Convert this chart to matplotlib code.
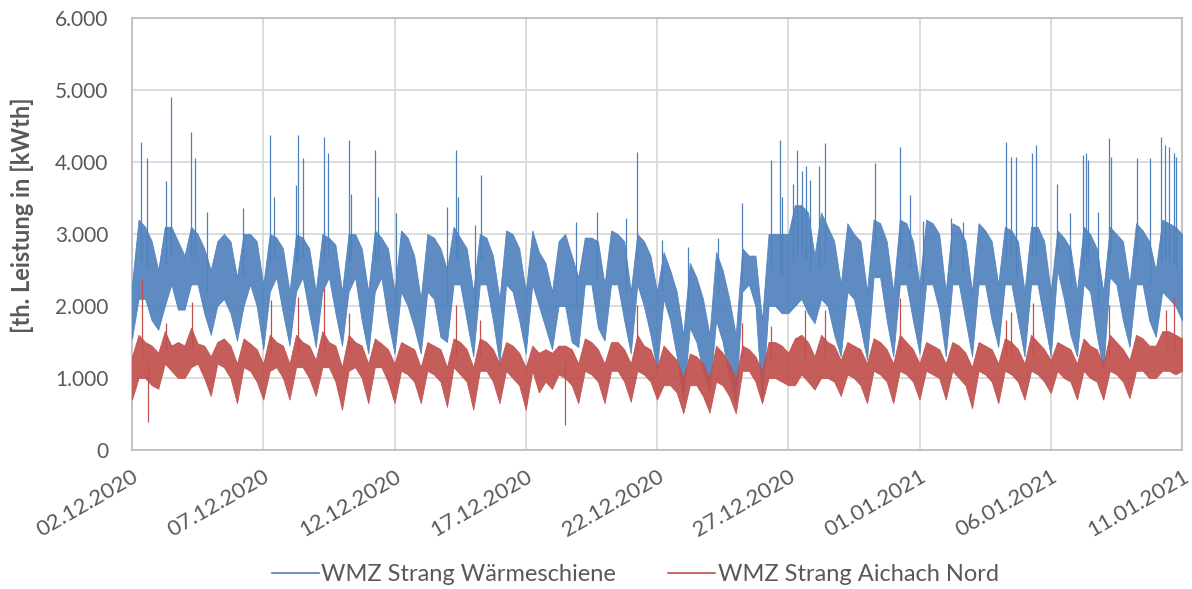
import numpy as np
import matplotlib.pyplot as plt

plt.rcParams['font.family'] = ['Lato', 'DejaVu Sans']

# time axis in days after 02.12.2020 00:00, samples every 6 h (00, 06, 12, 18 h)
tick_days = [0, 5, 10, 15, 20, 25, 30, 35, 40]
tick_labels = ["02.12.2020", "07.12.2020", "12.12.2020", "17.12.2020", "22.12.2020",
               "27.12.2020", "01.01.2021", "06.01.2021", "11.01.2021"]
y_ticks = [0, 1000, 2000, 3000, 4000, 5000, 6000]
y_labels = ["0", "1.000", "2.000", "3.000", "4.000", "5.000", "6.000"]
t_grid = np.arange(161) / 4

# WMZ Strang Wärmeschiene: band of the dense 15-min trace, lower / upper edge [kW]
blue_lo = [1550, 2100, 2100, 1800, 1670, 2000, 2300, 1950, 1950, 2300, 2300, 1900,
           1600, 2000, 2100, 1900, 1520, 2000, 2300, 2000, 1400, 2200, 2400, 1900,
           1450, 2200, 2400, 1900, 1430, 2200, 2400, 1900, 1450, 2200, 2400, 1800,
           1340, 2200, 2400, 1800, 1340, 2200, 2000, 1700, 1340, 2200, 2100, 1570,
           1500, 2300, 2300, 1800, 1300, 2300, 2300, 1800, 1200, 2300, 2200, 1800,
           1340, 2300, 2000, 1700, 1400, 2000, 2000, 1500, 1430, 2300, 2300, 1700,
           1520, 2300, 2300, 1800, 1340, 2300, 2000, 1600, 1110, 2100, 1800, 1300,
           690, 1700, 1500, 1100, 790, 1800, 1500, 1000, 650, 2200, 2300, 2000,
           650, 2000, 2000, 1900, 1900, 2000, 2100, 1900, 1760, 2100, 2000, 1600,
           1300, 2200, 2100, 1700, 1250, 2400, 2400, 1800, 1300, 2300, 2300, 1800,
           1340, 2300, 2300, 1940, 1300, 2300, 2300, 1800, 1300, 2300, 2300, 1800,
           1430, 2300, 2300, 1800, 1300, 2300, 2300, 1800, 1300, 2500, 2100, 1600,
           1300, 2300, 2200, 1600, 1110, 2400, 2300, 1800, 1430, 2300, 2300, 1800,
           1570, 2200, 2100, 2000, 1800]
blue_hi = [2300, 3200, 3100, 2900, 2500, 3100, 3100, 2900, 2700, 3100, 3000, 2800,
           2500, 2900, 3000, 2900, 2400, 3000, 3000, 2900, 2300, 3000, 2950, 2800,
           2200, 3000, 2950, 2800, 2200, 3000, 2950, 2850, 2200, 3000, 3000, 2800,
           2200, 3050, 2950, 2800, 2200, 3050, 2950, 2700, 2100, 3000, 2950, 2800,
           2500, 3100, 2950, 2800, 2200, 3000, 2950, 2700, 2100, 3050, 3000, 2800,
           2200, 3050, 2750, 2600, 2200, 2900, 3000, 2700, 2400, 2950, 2950, 2900,
           2300, 3050, 3000, 2900, 2200, 3000, 2900, 2700, 2200, 2750, 2500, 2200,
           1600, 2600, 2400, 2100, 1600, 2750, 2500, 2100, 1600, 2800, 2700, 2700,
           1800, 3000, 3000, 3000, 3000, 3400, 3400, 3300, 2700, 3300, 3100, 2900,
           2300, 3150, 3000, 2900, 2200, 3200, 3150, 2900, 2200, 3200, 3150, 2900,
           2300, 3200, 3150, 3000, 2200, 3150, 3100, 2900, 2200, 3150, 3050, 2900,
           2300, 3100, 3050, 2900, 2200, 3100, 3100, 2900, 2200, 3050, 2950, 2800,
           2200, 3100, 3000, 2800, 2200, 3100, 3000, 2900, 2300, 3150, 3050, 2900,
           2500, 3200, 3150, 3100, 3000]
# single peaks: time [days], value [kW]
blue_spike_t = [0.34, 0.57, 1.28, 1.50, 2.23, 2.40, 2.87, 4.22, 5.27, 5.42, 6.25, 6.31,
                6.50, 7.33, 7.46, 8.28, 8.35, 9.27, 9.36, 10.07, 12.00, 12.36, 12.42,
                13.06, 13.31, 16.90, 17.70, 18.81, 19.25, 20.18, 21.19, 22.33, 23.22,
                24.34, 24.70, 24.78, 25.18, 25.33, 25.52, 25.69, 25.81, 26.16, 26.39,
                28.30, 29.27, 29.63, 30.13, 31.21, 31.66, 33.31, 33.48, 33.69, 34.29,
                34.43, 35.25, 35.72, 36.21, 36.33, 36.43, 36.81, 37.22, 37.28, 38.30,
                38.77, 39.21, 39.34, 39.50, 39.70, 39.78]
blue_spike_v = [4280, 4050, 3730, 4900, 4420, 4050, 3300, 3360, 4370, 3520, 3680, 4370,
                4050, 4350, 4120, 4300, 3560, 4170, 3520, 3290, 3380, 4170, 3520,
                3120, 3820, 3170, 3310, 3220, 4140, 2920, 2820, 2940, 3430,
                4030, 4300, 3520, 3690, 4170, 3870, 3940, 3750, 3940, 4260,
                3980, 4210, 3540, 3180, 3220, 3170, 4280, 4070, 4070, 4120,
                4240, 3700, 3290, 4100, 4120, 4030, 3310, 4330, 4070, 4050,
                4050, 4350, 4240, 4210, 4120, 4070]

# WMZ Strang Aichach Nord
red_lo = [700, 1000, 1000, 900, 850, 1200, 1100, 1000, 1000, 1150, 1200, 1000,
          750, 1200, 1150, 1000, 650, 1150, 1100, 950, 700, 1100, 1150, 1000,
          700, 1150, 1150, 1000, 750, 1150, 1150, 950, 560, 1100, 1150, 1000,
          650, 1150, 1150, 950, 650, 1100, 1050, 950, 650, 1100, 1050, 950,
          600, 1150, 1050, 950, 560, 1100, 1100, 950, 650, 1100, 1000, 900,
          560, 1100, 800, 950, 850, 1050, 1000, 900, 650, 1100, 1050, 950,
          650, 1100, 1100, 950, 670, 1100, 1050, 950, 700, 900, 900, 800,
          510, 900, 900, 750, 520, 950, 900, 750, 510, 1100, 1100, 950,
          650, 1000, 1000, 950, 900, 900, 1050, 950, 840, 1000, 1000, 950,
          750, 1050, 1000, 900, 650, 1100, 1050, 950, 650, 1100, 1050, 950,
          700, 1100, 1050, 1000, 700, 1100, 1000, 900, 580, 1100, 1050, 950,
          650, 1100, 1050, 950, 700, 1100, 1050, 950, 790, 1100, 1000, 950,
          700, 1100, 1000, 950, 700, 1100, 1050, 950, 720, 1100, 1100, 1000,
          1000, 1100, 1100, 1050, 1100]
red_hi = [1300, 1600, 1500, 1450, 1350, 1650, 1450, 1500, 1450, 1700, 1480, 1450,
          1300, 1500, 1550, 1450, 1200, 1550, 1480, 1400, 1200, 1600, 1500, 1450,
          1200, 1600, 1500, 1450, 1250, 1650, 1500, 1450, 1150, 1600, 1500, 1450,
          1200, 1550, 1480, 1400, 1200, 1500, 1450, 1400, 1150, 1500, 1450, 1400,
          1150, 1550, 1500, 1400, 1150, 1550, 1500, 1400, 1200, 1500, 1450, 1350,
          1150, 1450, 1350, 1400, 1350, 1450, 1450, 1400, 1200, 1550, 1500, 1400,
          1200, 1500, 1500, 1400, 1200, 1600, 1450, 1400, 1150, 1450, 1350, 1250,
          1000, 1340, 1300, 1200, 1000, 1450, 1350, 1200, 1000, 1450, 1400, 1300,
          1100, 1500, 1500, 1450, 1350, 1550, 1600, 1500, 1300, 1600, 1500, 1450,
          1250, 1500, 1450, 1400, 1200, 1550, 1500, 1400, 1200, 1600, 1500, 1400,
          1200, 1500, 1450, 1400, 1200, 1500, 1450, 1350, 1150, 1500, 1450, 1400,
          1200, 1550, 1500, 1400, 1200, 1600, 1500, 1400, 1250, 1500, 1450, 1400,
          1200, 1550, 1450, 1400, 1200, 1600, 1500, 1400, 1250, 1600, 1550, 1450,
          1450, 1650, 1650, 1600, 1550]
red_spike_t = [0.38, 0.62, 1.28, 2.27, 5.29, 6.31, 7.33, 8.28, 12.33, 13.27, 16.50,
               19.25, 23.25, 24.34, 25.65, 26.41, 29.27, 33.31, 33.50, 34.33, 37.22,
               39.38, 39.70]
red_spike_v = [2380, 390, 1760, 2060, 2080, 2130, 2250, 1900, 2010, 1800, 350,
               2010, 1760, 1720, 1940, 1940, 2110, 1800, 1920, 2040, 2010,
               1940, 2130]

blue = "#4F81BD"
red = "#C0504D"

fig = plt.figure(figsize=(11.92, 5.89), dpi=100)
ax = fig.add_axes([132 / 1192, 1 - 450 / 589, 1050 / 1192, 432 / 589])

# peaks start inside the band: from the band centre at that time
blue_base = (np.interp(blue_spike_t, t_grid, blue_lo) + np.interp(blue_spike_t, t_grid, blue_hi)) / 2
red_base = (np.interp(red_spike_t, t_grid, red_lo) + np.interp(red_spike_t, t_grid, red_hi)) / 2

ax.fill_between(t_grid, blue_lo, blue_hi, color=blue, alpha=0.92, lw=0.6, zorder=3)
ax.vlines(blue_spike_t, blue_base, blue_spike_v, color=blue, lw=0.9, zorder=3)
ax.fill_between(t_grid, red_lo, red_hi, color=red, alpha=0.92, lw=0.6, zorder=4)
ax.vlines(red_spike_t, red_base, red_spike_v, color=red, lw=0.9, zorder=4)

ax.plot([], [], color=blue, lw=1.2, label="WMZ Strang Wärmeschiene")
ax.plot([], [], color=red, lw=1.2, label="WMZ Strang Aichach Nord")

ax.set_xlim(0, 40)
ax.set_ylim(0, 6000)
ax.set_xticks(tick_days)
ax.set_xticklabels(tick_labels, rotation=30, ha="right", rotation_mode="anchor")
ax.set_yticks(y_ticks)
ax.set_yticklabels(y_labels)
ax.tick_params(length=0, labelsize=15, labelcolor="#595959")
ax.tick_params(axis="y", pad=17)
ax.tick_params(axis="x", pad=12, labelsize=16)
ax.grid(True, color="#D9D9D9", lw=1.3)
ax.set_axisbelow(True)
for s in ax.spines.values():
    s.set_color("#BFBFBF")
    s.set_linewidth(1.3)
ax.set_ylabel("[th. Leistung in [kWth]", fontsize=17, fontweight="bold", color="#595959")
ax.yaxis.set_label_coords(-0.093, 0.544)

fig.legend(loc="center", bbox_to_anchor=(0.533, 0.024), ncol=2, frameon=False,
           fontsize=17, labelcolor="#595959", handlelength=2.0, columnspacing=2.2,
           handletextpad=0.1)

fig.savefig("out.png", dpi=100)
